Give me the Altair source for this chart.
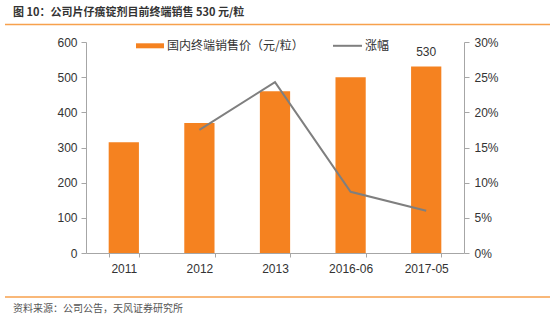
import altair as alt
import pandas as pd

categories = ["2011", "2012", "2013", "2016-06", "2017-05"]
prices = [315, 370, 460, 500, 530]
growth = [None, 0.175, 0.243, 0.087, 0.060]
price_ticks = [0, 100, 200, 300, 400, 500, 600]
growth_ticks = [0, 0.05, 0.10, 0.15, 0.20, 0.25, 0.30]

title_text = "图 10：公司片仔癀锭剂目前终端销售 530 元/粒"
source_text = "资料来源：公司公告，天风证券研究所"
legend_bar = "国内终端销售价（元/粒）"
legend_line = "涨幅"

df = pd.DataFrame({"cat": categories, "price": prices, "growth": growth})

FONT = "Liberation Sans"
CJK = "Noto Sans CJK SC"
ORANGE = "#F58220"
GRAY = "#7F7F7F"
AXIS = "#A6A6A6"
TXT = "#333333"

xaxis = alt.Axis(labelAngle=0, tickBand="extent", domainColor=AXIS,
                 tickColor=AXIS, tickSize=4, labelPadding=6,
                 labelOverlap=False,
                 labelFontSize=12, labelColor=TXT, labelFont=FONT)
xscale = alt.Scale(paddingInner=0.6, paddingOuter=0.3)

yaxis_left = alt.Axis(values=price_ticks, grid=False, domainColor=AXIS,
                      tickColor=AXIS, tickSize=5, labelPadding=4,
                      labelOverlap=False, labelFlush=False,
                      labelFontSize=12, labelColor=TXT, labelFont=FONT)
yscale_left = alt.Scale(domain=[0, 600])

base = alt.Chart(df)

bars = base.mark_bar(color=ORANGE).encode(
    x=alt.X("cat:N", sort=categories, title=None, scale=xscale, axis=xaxis),
    y=alt.Y("price:Q", title=None, scale=yscale_left, axis=yaxis_left),
)

label = base.transform_filter(alt.datum.cat == "2017-05").mark_text(
    dy=-8, baseline="bottom", fontSize=12, color=TXT, font=FONT
).encode(
    x=alt.X("cat:N", sort=categories, title=None, scale=xscale, axis=xaxis),
    y=alt.Y("price:Q", title=None, scale=yscale_left, axis=yaxis_left),
    text=alt.Text("price:Q"),
)

bar_layer = alt.layer(bars, label)

line = base.transform_filter("isValid(datum.growth)").mark_line(
    color=GRAY, strokeWidth=2
).encode(
    x=alt.X("cat:N", sort=categories, title=None, scale=xscale, axis=xaxis),
    y=alt.Y("growth:Q", title=None,
            scale=alt.Scale(domain=[0, 0.30]),
            axis=alt.Axis(orient="right", values=growth_ticks, format=".0%",
                          grid=False, domainColor=AXIS, tickColor=AXIS,
                          labelOverlap=False, labelFlush=False,
                          tickSize=5, labelPadding=5, labelFontSize=12,
                          labelColor=TXT, labelFont=FONT)),
)

# Decorations (header, footer, legend)
title = alt.Chart().mark_text(
    text=title_text, align="left", baseline="middle", fontSize=11,
    fontWeight="bold", font=CJK, color=TXT
).encode(x=alt.value(-73), y=alt.value(-29))

top_rule = alt.Chart().mark_rule(color="#F7A14D", strokeWidth=1.5).encode(
    x=alt.value(-81), x2=alt.value(464), y=alt.value(-17.5))
bottom_rule = alt.Chart().mark_rule(color="#F7A14D", strokeWidth=1.5).encode(
    x=alt.value(-81), x2=alt.value(464), y=alt.value(255))
source = alt.Chart().mark_text(
    text=source_text, align="left", baseline="middle", fontSize=10,
    font=CJK, color="#555555"
).encode(x=alt.value(-73), y=alt.value(267))

leg_rect = alt.Chart().mark_rect(color=ORANGE).encode(
    x=alt.value(50), x2=alt.value(78), y=alt.value(1.3), y2=alt.value(6.3))
leg_text1 = alt.Chart().mark_text(
    text=legend_bar, align="left", baseline="middle", fontSize=12,
    font=CJK, color=TXT
).encode(x=alt.value(81), y=alt.value(3.8))
leg_line = alt.Chart().mark_rule(color=GRAY, strokeWidth=2).encode(
    x=alt.value(247), x2=alt.value(276), y=alt.value(3.8))
leg_text2 = alt.Chart().mark_text(
    text=legend_line, align="left", baseline="middle", fontSize=12,
    font=CJK, color=TXT
).encode(x=alt.value(279), y=alt.value(3.8))

deco = alt.layer(title, top_rule, bottom_rule, source,
                 leg_rect, leg_text1, leg_line, leg_text2)

chart = alt.layer(bar_layer, line, deco).resolve_scale(
    y="independent"
).properties(
    width=378, height=211,
    autosize=alt.AutoSizeParams(type="none"),
    padding={"left": 86, "top": 42, "right": 86, "bottom": 70},
    background="white",
).configure_view(stroke=None)

chart.save("out.html", embed_options={"renderer": "svg", "actions": False})
